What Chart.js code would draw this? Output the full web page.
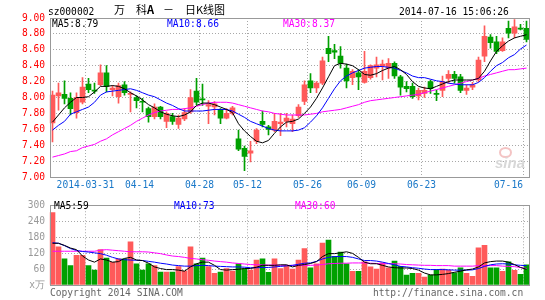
<!DOCTYPE html>
<html>
<head>
<meta charset="utf-8">
<script src="https://cdn.jsdelivr.net/npm/chart.js@4.4.1/dist/chart.umd.min.js"></script>
<style>
  html, body { margin: 0; padding: 0; background: #fff; }
  #wrap { position: relative; width: 545px; height: 300px; overflow: hidden; font-family: "DejaVu Sans Mono", monospace; font-size: 9.6px; }
  #wrap canvas { position: absolute; left: 0; }
  .t { position: absolute; white-space: pre; line-height: 1; }
  .cjk { font-family: "Noto Sans CJK SC", sans-serif; font-size: 11px; }
</style>
</head>
<body>
<div id="wrap">
  <canvas id="kChart" width="545" height="195" style="top:0"></canvas>
  <canvas id="volChart" width="545" height="105" style="top:195px"></canvas>

  <!-- header -->
  <div class="t" style="left:48px;top:7px">sz000002</div>
  <div class="t cjk" style="left:114px;top:4px">万</div>
  <div class="t cjk" style="left:136px;top:4px">科<b>A</b></div>
  <div class="t cjk" style="left:163px;top:4px">－</div>
  <div class="t cjk" style="left:185px;top:4px">日K线图</div>
  <div class="t" style="left:399px;top:7px">2014-07-16 15:06:26</div>

  <!-- legends -->
  <div class="t" style="left:52px;top:18.5px;color:#000">MA5:8.79</div>
  <div class="t" style="left:167px;top:18.5px;color:#0000ff">MA10:8.66</div>
  <div class="t" style="left:283px;top:18.5px;color:#ff00ff">MA30:8.37</div>
  <div class="t" style="left:54px;top:201px;color:#000">MA5:59</div>
  <div class="t" style="left:174px;top:201px;color:#0000ff">MA10:73</div>
  <div class="t" style="left:295px;top:201px;color:#ff00ff">MA30:60</div>

  <!-- watermark -->
  <div class="t" style="left:499px;top:147px;width:9px;height:7px;border-radius:50%;border:2px solid #f4c4c4"></div>
  <div class="t" style="left:495px;top:154px;font:italic bold 15px 'Liberation Sans',sans-serif;color:#d8d8d8">sina</div>

  <!-- footer -->
  <div class="t" style="left:50px;top:288px;color:#666">Copyright 2014 SINA.COM</div>
  <div class="t" style="left:373px;top:288px;color:#666">http://finance.sina.com.cn</div>
</div>

<script>
// trading days, 2014
const dates = [
  '03-21','03-24','03-25','03-26','03-27','03-28','03-31','04-01','04-02','04-03',
  '04-04','04-08','04-09','04-10','04-11','04-14','04-15','04-16','04-17','04-18',
  '04-21','04-22','04-23','04-24','04-25','04-28','04-29','04-30','05-05','05-06',
  '05-07','05-08','05-09','05-12','05-13','05-14','05-15','05-16','05-19','05-20',
  '05-21','05-22','05-23','05-26','05-27','05-28','05-29','05-30','06-03','06-04',
  '06-05','06-06','06-09','06-10','06-11','06-12','06-13','06-16','06-17','06-18',
  '06-19','06-20','06-23','06-24','06-25','06-26','06-27','06-30','07-01','07-02',
  '07-03','07-04','07-07','07-08','07-09','07-10','07-11','07-14','07-15','07-16'
];
const tickDates = ['03-31','04-14','04-28','05-12','05-26','06-09','06-23','07-16'];

const opens = [
  7.68,8.02,8.04,7.99,7.81,7.94,8.17,8.09,8.16,8.31, 8.10,8.01,8.16,8.04,8.00,7.95,7.86,7.76,7.88,7.70,
  7.76,7.66,7.73,7.82,8.08,7.98,7.89,7.88,7.85,7.74, 7.80,7.48,7.36,7.30,7.45,7.70,7.63,7.59,7.67,7.70,
  7.67,7.77,7.95,8.21,8.12,8.18,8.62,8.59,8.52,8.37, 8.25,8.31,8.19,8.25,8.37,8.40,8.37,8.43,8.26,8.14,
  8.14,8.02,8.05,8.20,8.05,8.09,8.24,8.29,8.26,8.09, 8.13,8.22,8.52,8.76,8.70,8.59,8.87,8.81,8.87,8.87
];
const highs = [
  8.08,8.18,8.21,8.06,8.06,8.25,8.24,8.18,8.41,8.40, 8.15,8.18,8.20,8.07,8.02,7.99,7.88,7.92,7.89,7.82,
  7.80,7.78,7.86,8.10,8.24,8.17,7.96,7.95,7.86,7.86, 7.89,7.59,7.39,7.45,7.61,7.83,7.65,7.80,7.80,7.80,
  7.78,7.91,8.21,8.30,8.20,8.51,8.77,8.67,8.64,8.42, 8.35,8.35,8.58,8.41,8.51,8.47,8.49,8.45,8.28,8.20,
  8.18,8.12,8.13,8.22,8.09,8.27,8.34,8.33,8.29,8.16, 8.19,8.51,8.90,8.79,8.77,8.75,8.96,8.98,8.92,8.96
];
const lows = [
  7.44,7.84,7.92,7.78,7.74,7.92,8.06,8.05,8.15,8.07, 8.02,7.93,8.03,7.82,7.87,7.82,7.69,7.73,7.73,7.62,
  7.66,7.61,7.71,7.80,7.91,7.90,7.67,7.78,7.67,7.73, 7.78,7.33,7.08,7.19,7.42,7.63,7.53,7.57,7.52,7.63,
  7.57,7.75,7.91,8.06,8.06,8.16,8.45,8.49,8.37,8.12, 8.16,8.10,8.18,8.23,8.26,8.22,8.24,8.24,8.03,8.07,
  7.99,7.97,8.00,8.05,7.96,8.01,8.18,8.18,8.06,8.04, 8.10,8.20,8.45,8.62,8.55,8.58,8.75,8.75,8.85,8.70
];
const closes = [
  8.03,8.06,7.99,7.86,8.00,8.13,8.10,8.08,8.31,8.14, 8.12,8.15,8.06,8.05,7.96,7.94,7.76,7.88,7.76,7.80,
  7.70,7.74,7.81,8.00,7.94,7.97,7.91,7.92,7.74,7.80, 7.87,7.35,7.26,7.33,7.59,7.66,7.60,7.70,7.69,7.74,
  7.73,7.88,8.16,8.12,8.18,8.46,8.55,8.57,8.43,8.21, 8.33,8.26,8.33,8.40,8.41,8.42,8.43,8.27,8.13,8.11,
  8.01,8.09,8.09,8.11,8.04,8.20,8.29,8.24,8.09,8.12, 8.16,8.47,8.77,8.69,8.58,8.70,8.81,8.89,8.86,8.73
];
const ma5 = [
  7.69,7.78,7.87,7.94,8.00,8.00,8.01,8.07,8.14,8.14, 8.15,8.14,8.11,8.06,8.02,7.97,7.91,7.87,7.82,7.79,
  7.77,7.76,7.78,7.82,7.90,7.93,7.93,7.91,7.88,7.85, 7.81,7.67,7.58,7.51,7.45,7.43,7.46,7.55,7.63,7.69,
  7.70,7.73,7.80,7.88,7.99,8.12,8.26,8.40,8.43,8.42, 8.40,8.35,8.29,8.28,8.30,8.34,8.37,8.39,8.35,8.29,
  8.20,8.14,8.12,8.11,8.14,8.17,8.20,8.22,8.22,8.22, 8.22,8.24,8.33,8.46,8.58,8.65,8.71,8.75,8.77,8.79
];
const ma10 = [
  7.59,7.65,7.70,7.79,7.82,7.85,7.88,7.94,8.03,8.07, 8.08,8.09,8.10,8.11,8.09,8.06,8.03,8.01,7.97,7.93,
  7.90,7.86,7.83,7.83,7.83,7.83,7.84,7.85,7.85,7.85, 7.83,7.79,7.75,7.70,7.67,7.64,7.61,7.59,7.58,7.58,
  7.58,7.59,7.62,7.69,7.77,7.87,7.99,8.11,8.21,8.27, 8.31,8.34,8.37,8.38,8.39,8.39,8.38,8.37,8.34,8.31,
  8.27,8.25,8.25,8.23,8.21,8.20,8.18,8.17,8.16,8.16, 8.16,8.19,8.25,8.33,8.40,8.44,8.50,8.54,8.61,8.66
];
const ma30 = [
  7.25,7.27,7.29,7.32,7.33,7.37,7.39,7.41,7.45,7.48, 7.53,7.57,7.61,7.65,7.70,7.74,7.78,7.81,7.83,7.84,
  7.85,7.85,7.86,7.87,7.89,7.91,7.93,7.94,7.94,7.94, 7.93,7.91,7.89,7.87,7.85,7.83,7.82,7.80,7.79,7.78,
  7.78,7.78,7.78,7.79,7.80,7.82,7.83,7.84,7.85,7.87, 7.89,7.91,7.94,7.96,7.97,7.98,7.99,8.00,8.01,8.02,
  8.03,8.04,8.06,8.08,8.10,8.12,8.14,8.16,8.18,8.20, 8.22,8.24,8.27,8.29,8.31,8.33,8.35,8.35,8.36,8.37
];

// volume, 万手
const volumes = [
  272,144,98,73,112,112,73,56,133,101, 85,98,98,162,80,56,80,73,49,49,
  49,69,52,144,80,101,69,44,49,62, 52,80,62,56,94,98,48,98,62,73,
  60,94,137,65,80,158,169,108,124,80, 51,51,87,68,60,83,65,90,70,37,
  44,44,30,37,58,60,56,46,65,44, 33,140,149,65,65,51,87,55,40,76
];
const volMa5 = [
  157,157,149,139,133,109,94,86,98,94, 86,88,100,104,94,92,82,68,62,58,
  58,56,52,68,80,86,86,74,58,56, 58,59,62,62,67,74,74,74,76,76,
  68,74,77,81,88,107,118,118,121,125, 119,104,86,80,80,74,68,65,64,64,
  62,56,45,38,38,40,43,48,52,57, 60,68,83,88,90,90,86,77,66,59
];
const volMa10 = [
  159,157,148,137,130,126,124,121,118,112, 104,98,95,94,93,92,89,86,82,79,
  75,73,71,71,73,74,73,71,70,69, 68,68,67,65,65,66,66,68,70,72,
  74,78,82,83,89,98,104,107,107,107, 104,98,92,92,90,86,81,76,70,68,
  65,63,60,58,58,58,57,56,56,56, 57,62,70,76,79,80,79,76,74,73
];
const volMa30 = [
  127,127,127,127,127,127,127,127,131,133, 131,129,127,125,125,125,124,121,118,113,
  109,107,104,100,98,95,93,90,88,86, 83,81,79,77,76,76,75,75,74,74,
  74,74,74,74,75,77,80,81,82,82, 83,83,83,82,81,80,80,80,79,77,
  76,75,74,74,73,73,73,71,71,71, 71,73,73,73,73,71,70,69,66,62
];

const UP = '#ff5a5a', DOWN = '#00a000';
const GRID = '#a8a8a8';
const mono = { family: '"DejaVu Sans Mono", monospace', size: 9.6 };
const candleColors = closes.map((c, i) => c >= opens[i] ? UP : DOWN);

// x ticks: a grid line on the left edge of each labelled day
const gridVals = tickDates.map(d => dates.indexOf(d) - 0.5);
const gridSet = new Set(gridVals);
const xLabel = new Map();
tickDates.forEach((d, i) => {
  if (i === 0) xLabel.set(gridVals[i], '2014-' + d);
  else if (i < tickDates.length - 1) xLabel.set(gridVals[i], d);
});
// last label is pulled left so it stays inside the frame
const lastLabelAt = gridVals[gridVals.length - 1] - 2.5;
xLabel.set(lastLabelAt, tickDates[tickDates.length - 1]);
const xTickVals = [...gridVals, lastLabelAt].sort((a, b) => a - b);

const frame = {
  id: 'frame',
  afterDraw(chart) {
    const a = chart.chartArea, ctx = chart.ctx;
    ctx.save();
    ctx.strokeStyle = '#999';
    ctx.lineWidth = 1;
    ctx.strokeRect(Math.round(a.left) + 0.5, Math.round(a.top) + 0.5,
      Math.round(a.right - a.left) - 1, Math.round(a.bottom - a.top));
    ctx.restore();
  }
};

function xScale(showLabels, height) {
  return {
    type: 'linear', min: -0.5, max: dates.length - 0.5, offset: false, bounds: 'data',
    afterBuildTicks: s => { s.ticks = xTickVals.map(v => ({ value: v })); },
    afterFit: s => { s.height = height; },
    grid: { offset: false, drawTicks: false, color: c => gridSet.has(c.tick && c.tick.value) ? GRID : 'rgba(0,0,0,0)' },
    border: { display: false, dash: [1, 2] },
    ticks: { display: showLabels, autoSkip: false, maxRotation: 0, minRotation: 0, padding: 3,
             color: '#1a78c8', font: mono, callback: v => xLabel.get(v) || '' }
  };
}

function line(values, color, order) {
  return { type: 'line', data: values.map((v, i) => ({ x: i, y: v })), borderColor: color,
           borderWidth: 1, pointRadius: 0, fill: false, tension: 0, order };
}

const common = {
  responsive: false, animation: false, devicePixelRatio: 1, events: [],
  plugins: { legend: { display: false }, tooltip: { enabled: false } }
};

new Chart(document.getElementById('kChart'), {
  type: 'bar',
  data: {
    datasets: [
      line(ma5, '#000000', 0),
      line(ma10, '#0000ff', 1),
      line(ma30, '#ff00ff', 2),
      { data: dates.map((d, i) => ({ x: i, y: [opens[i], closes[i]] })), backgroundColor: candleColors,
        barThickness: 5, minBarLength: 1, grouped: false, order: 3 },
      { data: dates.map((d, i) => ({ x: i, y: [lows[i], highs[i]] })), backgroundColor: candleColors,
        barThickness: 1, grouped: false, order: 4 }
    ]
  },
  options: {
    ...common,
    layout: { padding: { top: 18, right: 15.5, bottom: 0, left: 0 } },
    scales: {
      x: xScale(true, 18),
      y: {
        min: 7, max: 9,
        afterFit: s => { s.width = 49.5; },
        grid: { drawTicks: false, color: GRID },
        border: { display: false, dash: [1, 2] },
        ticks: { stepSize: 0.2, padding: 4.5, color: '#ff0000', font: mono, callback: v => v.toFixed(2) }
      }
    }
  },
  plugins: [frame]
});

new Chart(document.getElementById('volChart'), {
  type: 'bar',
  data: {
    datasets: [
      line(volMa5, '#000000', 0),
      line(volMa10, '#0000ff', 1),
      line(volMa30, '#ff00ff', 2),
      { data: volumes.map((v, i) => ({ x: i, y: v })), backgroundColor: candleColors,
        barThickness: 5, grouped: false, order: 3 }
    ]
  },
  options: {
    ...common,
    layout: { padding: { top: 6, right: 15.5, bottom: 0, left: 0 } },
    scales: {
      x: xScale(false, 15),
      y: {
        min: 0, max: 300,
        afterFit: s => { s.width = 49.5; },
        grid: { drawTicks: false, color: GRID },
        border: { display: false, dash: [1, 2] },
        ticks: { stepSize: 60, padding: 4.5, color: '#999', font: mono, callback: v => v === 0 ? 'x万' : String(v) }
      }
    }
  },
  plugins: [frame]
});
</script>
</body>
</html>
